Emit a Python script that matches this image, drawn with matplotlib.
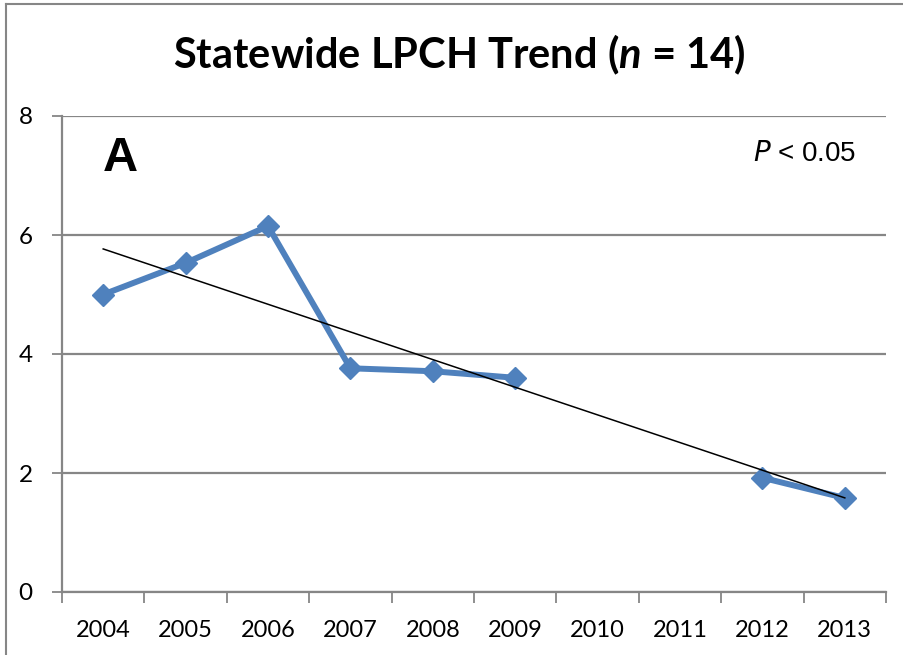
import numpy as np
import matplotlib.pyplot as plt
from matplotlib.lines import Line2D

years = ['2004', '2005', '2006', '2007', '2008', '2009', '2010', '2011', '2012', '2013']
rate = [5.0, 5.53, 6.15, 3.76, 3.71, 3.60, np.nan, np.nan, 1.92, 1.58]
y_ticks = [0, 2, 4, 6, 8]

blue = '#4F81BD'
gray = '#868686'

plt.rcParams['mathtext.fontset'] = 'custom'
plt.rcParams['mathtext.bfit'] = 'Lato:bold:italic'

fig = plt.figure(figsize=(9.04, 6.55), dpi=100)
ax = fig.add_axes([62 / 904, 1 - 592 / 655, (886 - 62) / 904, (592 - 116) / 655])

x = np.arange(len(years))
y = np.array(rate, dtype=float)

# data line, gaps left where there is no value
ax.plot(x, y, color=blue, lw=4.3, marker='D', markersize=11.5, zorder=3)

# linear trend through the available points
ok = ~np.isnan(y)
slope, icpt = np.polyfit(x[ok], y[ok], 1)
ax.plot([x[0], x[-1]], [icpt + slope * x[0], icpt + slope * x[-1]],
        color='black', lw=1.1, zorder=4)

ax.set_xlim(-0.5, len(years) - 0.5)
ax.set_ylim(0, 8)
ax.set_yticks(y_ticks)
ax.set_yticklabels([str(v) for v in y_ticks], fontfamily='Lato', fontsize=17.5)
ax.set_xticks(x)
ax.set_xticklabels(years, fontfamily='Lato', fontsize=17)
ax.tick_params(axis='x', length=0, pad=20)
ax.set_xticks(np.arange(-0.5, len(years)), minor=True)
ax.tick_params(axis='x', which='minor', length=8, color=gray, width=1.3)
ax.tick_params(axis='y', length=7, color=gray, width=1.3, pad=14)

ax.grid(axis='y', color=gray, lw=1.6)
ax.set_axisbelow(True)
for s in ['top', 'right']:
    ax.spines[s].set_visible(False)
for s in ['left', 'bottom']:
    ax.spines[s].set_color(gray)
    ax.spines[s].set_linewidth(1.6)

fig.text(0.508, 1 - 55 / 655, r'Statewide LPCH Trend ($\mathbfit{n}$ = 14)',
         ha='center', va='center', fontfamily='Lato', fontweight='bold', fontsize=30)

ax.text(0.05, 0.91, 'A', transform=ax.transAxes, ha='left', va='center',
        fontfamily='Liberation Sans', fontweight='bold', fontsize=35)
ax.text(0.964, 0.92, r'$P$ < 0.05', transform=ax.transAxes, ha='right', va='center',
        fontfamily='Liberation Sans', fontsize=20)

# chart frame, cut off at the right and bottom
fig.add_artist(Line2D([6 / 904, 6 / 904], [0, 1 - 4 / 655], color=gray, lw=1.5))
fig.add_artist(Line2D([6 / 904, 1], [1 - 4 / 655, 1 - 4 / 655], color=gray, lw=1.5))

fig.savefig('out.png', dpi=100)
